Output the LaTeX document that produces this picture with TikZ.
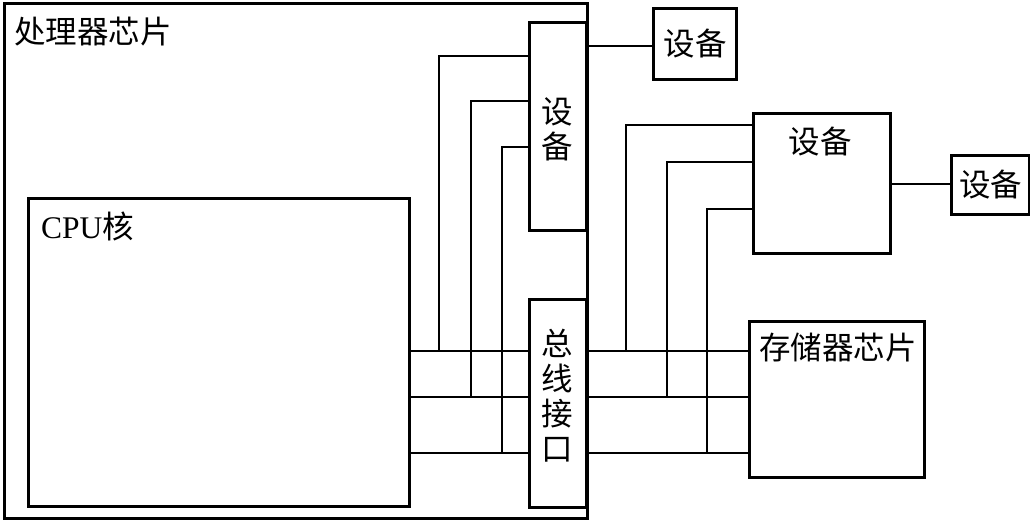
\documentclass[tikz,border=0pt]{standalone}
\usepackage{fontspec}
\setmainfont{Liberation Serif}
\newfontfamily\cjk{Noto Sans CJK SC}
\begin{document}
\begin{tikzpicture}[x=1pt,y=-1pt,
  blk/.style={draw,line width=3pt,inner sep=0pt,anchor=north west},
  wire/.style={line width=2pt},
  lbl/.style={inner sep=0pt,font=\fontsize{31.5}{35}\selectfont}]
\useasboundingbox (0,0) rectangle (1030,521);
% boxes
\node[blk,minimum width=583pt,minimum height=515pt] (chip) at (3,2) {};
\node[blk,minimum width=381pt,minimum height=308pt] (cpu) at (27,197) {};
\node[blk,minimum width=57pt,minimum height=208pt] (dev1) at (528,21) {};
\node[blk,minimum width=57pt,minimum height=208pt] (bus) at (528,298) {};
\node[blk,minimum width=83pt,minimum height=71pt] (dev3) at (652,7) {};
\node[blk,minimum width=137pt,minimum height=140pt] (dev2) at (752,112) {};
\node[blk,minimum width=78pt,minimum height=59pt] (dev4) at (950,154) {};
\node[blk,minimum width=175pt,minimum height=156pt] (mem) at (748,320) {};
% labels
\node[lbl,anchor=west] (tchip) at (14,32) {\cjk 处理器芯片};
\node[lbl,anchor=west] (tcpu) at (41,226) {CPU\cjk 核};
\node[lbl,align=center] (tdev1) at (557,129) {\cjk 设\\\cjk 备};
\node[lbl,align=center] (tbus) at (557,396) {\cjk 总\\\cjk 线\\\cjk 接\\\cjk 口};
\node[lbl] (tdev3) at (dev3.center) {\cjk 设备};
\node[lbl] (tdev2) at (820,142) {\cjk 设备};
\node[lbl] (tdev4) at (dev4.center) {\cjk 设备};
\node[lbl] (tmem) at (838,348) {\cjk 存储器芯片};
% bus lines
\foreach \yy in {351,397,453}{
  \draw[wire] (cpu.east |- 0,\yy) -- (bus.west |- 0,\yy);
  \draw[wire] (bus.east |- 0,\yy) -- (mem.west |- 0,\yy);
}
% taps on the left
\coordinate (la) at (439,351);
\coordinate (lb) at (471,397);
\coordinate (lc) at (502,453);
\draw[wire] (la) |- (dev1.west |- 0,56);
\draw[wire] (lb) |- (dev1.west |- 0,101);
\draw[wire] (lc) |- (dev1.west |- 0,147);
% taps on the right
\coordinate (ra) at (626,351);
\coordinate (rb) at (667,397);
\coordinate (rc) at (707,453);
\draw[wire] (ra) |- (dev2.west |- 0,125);
\draw[wire] (rb) |- (dev2.west |- 0,162);
\draw[wire] (rc) |- (dev2.west |- 0,209);
% device links
\draw[wire] (chip.east |- 0,46) -- (dev3.west |- 0,46);
\draw[wire] (dev2.east |- 0,184) -- (dev4.west |- 0,184);
\end{tikzpicture}
\end{document}
